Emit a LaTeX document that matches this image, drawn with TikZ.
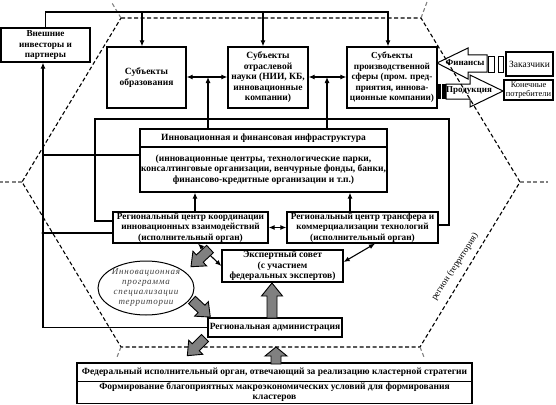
\documentclass[tikz,border=0pt]{standalone}
\usepackage{fontspec}
\setmainfont{Liberation Serif}
\newfontfamily\progfont[LetterSpace=8]{Liberation Serif}
\usetikzlibrary{arrows.meta,calc,shapes.geometric}
\newcommand\fatarrow[5]{%
  \draw[fat, shift={#1}, rotate=#2] (0,-5) -- (#3-#4,-5) -- (#3-#4,-#5) -- (#3,0) -- (#3-#4,#5) -- (#3-#4,5) -- (0,5) -- cycle;}
\begin{document}
\begin{tikzpicture}[x=1pt,y=-1pt,
  box/.style={draw, line width=1.3pt, fill=white, align=center, inner sep=0.5pt,
    font=\fontsize{9.5}{10.5}\selectfont\bfseries},
  plainbox/.style={box, font=\fontsize{9.5}{10}\selectfont},
  conn/.style={line width=1.1pt},
  arr/.style={conn, -{Latex[length=6pt,width=5pt]}},
  darr/.style={conn, {Latex[length=6pt,width=5pt]}-{Latex[length=6pt,width=5pt]}},
  hexline/.style={line width=1.1pt, dash pattern=on 4pt off 2.5pt},
  stub/.style={hexline, gray},
  fat/.style={draw, line width=0.9pt, fill=gray},
  hollow/.style={draw, line width=1pt, fill=white},
  dot/.style={circle, fill, inner sep=0pt, minimum size=3.2pt}
]
\useasboundingbox (0,0) rectangle (556,404);

% hollow arrows on the right
\draw[hollow] (437,63) -- (468,48) -- (468,55) -- (487,55) -- (487,72) -- (468,72) -- (468,79) -- cycle;
\draw[hollow] (446,84) -- (470,84) -- (470,75) -- (503,91) -- (470,107) -- (470,99) -- (446,99) -- cycle;
\draw[hollow, line width=0.9pt] (488,56) rectangle (494,72);
\draw[hollow, line width=0.9pt] (498,56) rectangle (503,72);
\fill (437,84) rectangle (440.5,99);
\fill (442,84) rectangle (445.5,99);
\node[font=\fontsize{9}{10}\selectfont\bfseries, inner sep=0pt] (fin) at (465,63) {Финансы};
\node[font=\fontsize{9}{10}\selectfont\bfseries, inner sep=0pt] (prodt) at (469,91) {Продукция};

% hexagon (region)
\draw[hexline] (121,18) -- (421,18) -- (520,182) -- (420,347) -- (121,347) -- (22,182) -- cycle;
\draw[stub] (121,18) -- (112,3);
\draw[stub] (421,18) -- (427,2);
\draw[stub] (520,182) -- (548,182);
\draw[stub] (22,182) -- (0,182);
\draw[stub] (121,347) -- (117,357);
\draw[stub] (420,347) -- (424,357);
\node[rotate=57, font=\fontsize{9}{10}\selectfont, inner sep=0pt] (reg) at (455,267) {регион (территория)};

% boxes
\node[box, minimum width=89pt, minimum height=34pt, font=\fontsize{9.2}{10.5}\selectfont\bfseries] (inv) at (45.5,45) {Внешние\\инвесторы и\\партнеры};
\node[box, minimum width=79pt, minimum height=61pt] (edu) at (146.5,77.5) {Субъекты\\образования};
\node[box, minimum width=80pt, minimum height=61pt] (sci) at (268,77.5) {Субъекты\\отраслевой\\науки (НИИ, КБ,\\инновационные\\компании)};
\node[box, minimum width=90pt, minimum height=61pt, font=\fontsize{9.2}{10.5}\selectfont\bfseries] (prod) at (392,77.5) {Субъекты\\производственной\\сферы (пром. пред-\\приятия, иннова-\\ционные компании)};
\node[plainbox, minimum width=47pt, minimum height=24pt] (cust) at (529.5,64) {Заказчики};
\node[plainbox, minimum width=49pt, minimum height=20pt, inner sep=0pt, font=\fontsize{8.4}{9.2}\selectfont] (cons) at (528.5,90) {Конечные\\потребители};
\node[box, minimum width=247pt, minimum height=18pt] (infraT) at (263.5,138) {Инновационная и финансовая инфраструктура};
\node[box, minimum width=247pt, minimum height=45pt] (infraD) at (263.5,169.5) {(инновационные центры, технологические парки,\\консалтинговые организации, венчурные фонды, банки,\\финансово-кредитные организации и т.п.)};
\node[box, minimum width=155pt, minimum height=31pt, font=\fontsize{9.3}{10.3}\selectfont\bfseries] (coord) at (190.5,227.5) {Региональный центр координации\\инновационных взаимодействий\\(исполнительный орган)};
\node[box, minimum width=151pt, minimum height=31pt, font=\fontsize{9.3}{10.3}\selectfont\bfseries] (trans) at (362.5,227.5) {Региональный центр трансфера и\\коммерциализации технологий\\(исполнительный орган)};
\node[box, minimum width=121pt, minimum height=32pt] (exp) at (282.5,266) {Экспертный совет\\(с участием\\федеральных экспертов)};
\node[box, minimum width=134pt, minimum height=19pt] (admin) at (275,327.5) {Региональная администрация};
\node[draw, ellipse, line width=1pt, fill=white, minimum width=96pt, minimum height=54pt, inner sep=-2pt, align=center,
  font=\fontsize{9}{10}\progfont\itshape, text=black!75] (prog) at (146,288) {Инновационная\\программа\\специализации\\территории};
\node[box, minimum width=395pt, minimum height=18.5pt, font=\fontsize{9.5}{10.5}\selectfont\bfseries] (fedT) at (274.5,372.25) {Федеральный исполнительный орган, отвечающий за реализацию кластерной стратегии};
\node[box, minimum width=395pt, minimum height=22pt, inner sep=0pt, font=\fontsize{9.5}{10.2}\selectfont\bfseries] (fedD) at (274.5,392.5) {Формирование благоприятных макроэкономических условий для формирования\\кластеров};

% top connectors
\coordinate (tp) at (388,12);
\draw[arr] (inv.north) |- (tp) -- (tp |- prod.north);
\coordinate (b1) at (142,12);
\coordinate (b2) at (263,12);
\draw[arr] (b1) -- (b1 |- edu.north);
\draw[arr] (b2) -- (b2 |- sci.north);

% connections between subjects
\coordinate (v1) at (208,77);
\coordinate (v2) at (327,77);
\draw[darr] (edu.east |- v1) -- (sci.west |- v1);
\draw[darr] (sci.east |- v2) -- (prod.west |- v2);
\draw[arr] (v1 |- infraT.north) -- (v1);
\draw[arr] (v2 |- infraT.north) -- (v2);

% loop around infrastructure
\coordinate (lp1) at (95,119);
\coordinate (lp2) at (449,119);
\draw[conn] ([yshift=6.5pt]coord.west) -| (lp1) -- (lp2) |- ([yshift=2.5pt]trans.east);
\node[dot] (d1) at (v1 |- lp1) {};
\node[dot] (d2) at (v2 |- lp1) {};

% left bus
\draw[arr] (admin.west) -| ([xshift=-2.5pt]inv.south);
\coordinate (j1) at (43,155);
\coordinate (j2) at (43,233);
\draw[conn] (j1) -- (j1 -| infraD.west);
\draw[conn] (j2) -- (j2 -| coord.west);
\node[dot] (d3) at (j2) {};

% centres to infrastructure
\coordinate (u1) at (195,200);
\coordinate (u2) at (350,200);
\draw[arr] (u1 |- coord.north) -- (u1 |- infraD.south);
\draw[arr] (u2 |- trans.north) -- (u2 |- infraD.south);
\draw[darr] (coord.east) -- (trans.west);
\draw[darr] ([xshift=7.5pt]coord.south) -- (exp.west);
\draw[darr] ([xshift=12.5pt]trans.south) -- ([yshift=4pt]exp.east);

% fat arrows
\fatarrow{(210,249)}{223}{26}{12}{10}
\fatarrow{(192,300)}{-43}{25}{12}{10}
\fatarrow{(272,318)}{90}{35}{13}{10.5}
\fatarrow{(205,338)}{225}{25}{12}{10}
\fatarrow{(276,364)}{90}{17}{9}{11}
\end{tikzpicture}
\end{document}
